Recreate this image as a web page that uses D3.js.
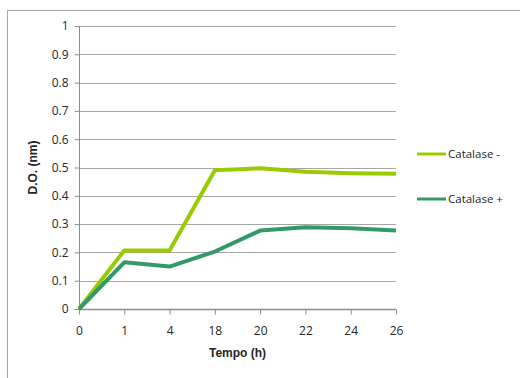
<!DOCTYPE html>
<html>
<head>
<meta charset="utf-8">
<script src="https://cdn.jsdelivr.net/npm/d3@7"></script>
<style>
  body { margin: 0; background: #fff; }
  text { font-family: "Open Sans", "Liberation Sans", sans-serif; fill: #262626; }
</style>
</head>
<body>
<div id="chart"></div>
<script>
// data
let hours = ["0", "1", "4", "18", "20", "22", "24", "26"];
let catalaseNeg = [0, 0.207, 0.207, 0.49, 0.497, 0.485, 0.48, 0.478];
let catalasePos = [0, 0.165, 0.15, 0.203, 0.277, 0.289, 0.285, 0.277];
let yTicks = [0, 0.1, 0.2, 0.3, 0.4, 0.5, 0.6, 0.7, 0.8, 0.9, 1];
let seriesNames = ["Catalase -", "Catalase +"];
let seriesColors = ["#99cc00", "#339966"];

let width = 520, height = 378;
let margin = {left: 79, right: 124, top: 26, bottom: 69};

let svg = d3.select("#chart").append("svg")
    .attr("width", width)
    .attr("height", height);

// outer chart frame
svg.append("rect")
    .attr("x", 7.5).attr("y", 10.5)
    .attr("width", 530).attr("height", 380)
    .attr("fill", "none")
    .attr("stroke", "#a6a6a6");

let x = d3.scalePoint()
    .domain(hours)
    .range([margin.left, width - margin.right]);

let y = d3.scaleLinear()
    .domain([0, 1])
    .range([height - margin.bottom, margin.top]);

// gridlines
svg.append("g")
    .selectAll("line")
    .data(yTicks.slice(1))
    .enter().append("line")
    .attr("x1", margin.left).attr("x2", width - margin.right)
    .attr("y1", d => Math.round(y(d)) + 0.5)
    .attr("y2", d => Math.round(y(d)) + 0.5)
    .attr("stroke", "#a6a6a6");

// y axis
let yAxis = svg.append("g")
    .attr("transform", "translate(" + (margin.left + 0.5) + ",0)")
    .call(d3.axisLeft(y).tickValues(yTicks).tickFormat(d => d === 0 || d === 1 ? d : d.toFixed(1)).tickSize(5).tickPadding(6));
yAxis.selectAll("line").attr("stroke", "#8c8c8c");
yAxis.select(".domain").attr("stroke", "#8c8c8c").attr("d", "M0," + y(1) + "V" + y(0));
yAxis.selectAll("text").style("font-size", "12px").style("font-family", "Open Sans");

// x axis
let xAxis = svg.append("g")
    .attr("transform", "translate(0," + (Math.round(y(0)) + 0.5) + ")")
    .call(d3.axisBottom(x).tickSize(5).tickPadding(12));
xAxis.selectAll("line").attr("stroke", "#8c8c8c");
xAxis.select(".domain").attr("stroke", "#8c8c8c").attr("stroke-width", 1.5)
    .attr("d", "M" + margin.left + ",0H" + (width - margin.right));
xAxis.selectAll("text").style("font-size", "12px").style("font-family", "Open Sans");

// axis titles
svg.append("text")
    .attr("x", (margin.left + width - margin.right) / 2)
    .attr("y", 357)
    .attr("text-anchor", "middle")
    .style("font-family", "Liberation Sans")
    .style("font-weight", "bold")
    .style("font-size", "12px")
    .text("Tempo (h)");

svg.append("text")
    .attr("transform", "translate(37," + (height - margin.bottom + margin.top) / 2 + ") rotate(-90)")
    .attr("text-anchor", "middle")
    .style("font-family", "Liberation Sans")
    .style("font-weight", "bold")
    .style("font-size", "12px")
    .text("D.O. (nm)");

// lines
let line = d3.line()
    .x((d, i) => x(hours[i]))
    .y(d => y(d));

[catalaseNeg, catalasePos].forEach(function(vals, k){
  svg.append("path")
      .datum(vals)
      .attr("d", line)
      .attr("fill", "none")
      .attr("stroke", seriesColors[k])
      .attr("stroke-width", 4)
      .attr("stroke-linejoin", "round");
});

// legend
let legend = svg.append("g");
seriesNames.forEach(function(name, k){
  let ly = 154 + k * 45;
  legend.append("line")
      .attr("x1", 417).attr("x2", 446)
      .attr("y1", ly).attr("y2", ly)
      .attr("stroke", seriesColors[k])
      .attr("stroke-width", 3);
  legend.append("text")
      .attr("x", 448).attr("y", ly + 4)
      .style("font-size", "11.5px")
      .text(name);
});
</script>
</body>
</html>
